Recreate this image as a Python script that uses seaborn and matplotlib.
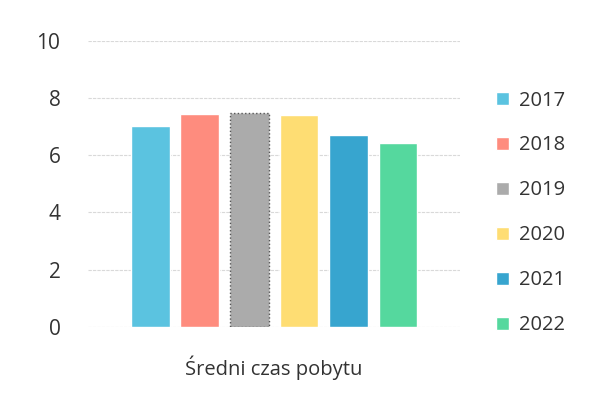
import matplotlib
matplotlib.use("Agg")
import matplotlib.pyplot as plt
import seaborn as sns
import pandas as pd

sns.set_style("white")
plt.rcParams['font.family'] = ['Open Sans', 'DejaVu Sans']

category = "Średni czas pobytu"
years = ["2017", "2018", "2019", "2020", "2021", "2022"]
values = [7.03, 7.45, 7.46, 7.42, 6.72, 6.41]
colors = ["#5BC3E0", "#FE8C7E", "#ABABAB", "#FEDD73", "#37A5CF", "#55D89E"]

df = pd.DataFrame({"Kategoria": [category] * len(years),
                   "Rok": years,
                   "Wartość": values})

fig = plt.figure(figsize=(5.92, 4.01), dpi=100)
ax = fig.add_axes([0.149, 0.185, 0.628, 0.7135])

sns.barplot(data=df, x="Kategoria", y="Wartość", hue="Rok",
            palette=colors, saturation=1, gap=0.22, width=0.8, ax=ax, zorder=3)

# 2019 bar looks selected in the original: dotted dark outline
bar19 = ax.patches[2]
bar19.set_edgecolor("#555555")
bar19.set_linestyle(":")
bar19.set_linewidth(1.0)

ax.set_ylim(0, 10)
ax.set_yticks(range(0, 11, 2))
ax.yaxis.grid(True, color="#D9D9D9", linewidth=0.8, linestyle=(0, (3, 1)), zorder=0)
ax.xaxis.grid(False)
for s in ax.spines.values():
    s.set_visible(False)
ax.tick_params(axis="y", labelsize=15, pad=20, length=0, colors="#333333")
ax.tick_params(axis="x", labelsize=14.5, pad=21, length=0, colors="#333333")
ax.set_xlabel("")
ax.set_ylabel("")

handles, labels = ax.get_legend_handles_labels()
ax.get_legend().remove()
fig.legend(handles, labels, loc="center left", bbox_to_anchor=(0.838, 0.469),
           frameon=False, fontsize=14.5, labelspacing=1.24,
           handlelength=0.65, handleheight=0.65, handletextpad=0.5,
           borderpad=0, borderaxespad=0, labelcolor="#333333")

fig.savefig("out.png", dpi=100)
